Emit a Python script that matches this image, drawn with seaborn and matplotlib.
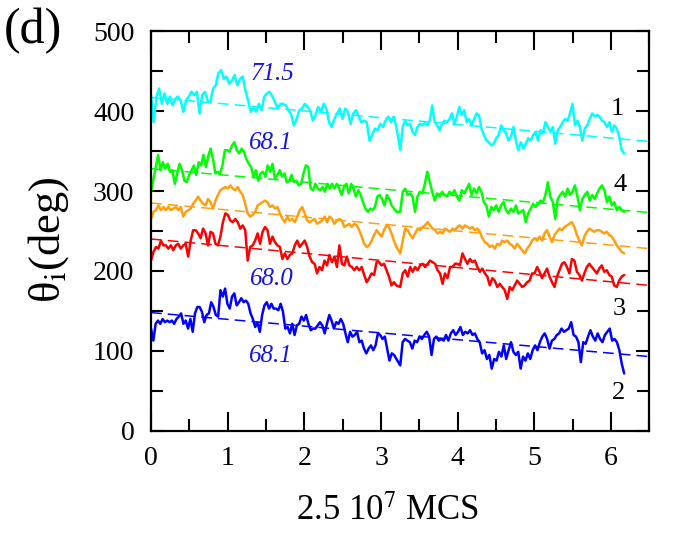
import numpy as np
import pandas as pd
import matplotlib
matplotlib.use("Agg")
import matplotlib.pyplot as plt
import seaborn as sns
from matplotlib.ticker import MultipleLocator

# ---------------- data ----------------
# each curve is sampled uniformly in time; "_a" covers t = 0 .. 3.2, "_b" covers t = 3.25 .. 6.17
cyan_a = [420,386,418,428,409,422,409,418,407,415,
          418,413,399,413,418,424,420,424,397,420,
          424,413,411,428,432,447,451,440,443,434,
          438,445,432,440,443,426,413,399,405,399,
          409,401,418,422,424,418,411,403,409,409,
          407,401,395,382,390,401,403,409,405,401,
          388,395,405,399,409,403,386,380,390,397,
          403,390,403,399,384,397,401,393,386,388,
          386,363,370,378,376,384,380,388,393,386,
          393,380]
cyan_b = [351,380,388,382,384,374,370,380,384,382,
          386,382,388,407,386,382,376,384,388,386,
          390,397,384,393,405,395,401,386,390,382,
          390,397,395,378,370,363,361,357,359,366,
          370,382,376,372,363,368,380,363,351,361,
          353,359,366,363,370,374,363,376,372,386,
          380,374,380,359,376,380,386,390,388,397,
          409,382,388,380,363,378,382,390,397,393,
          395,393,388,386,380,386,374,382,378,368,
          351,347]
green_a = [299,315,330,345,326,336,328,334,324,326,
           309,322,334,326,313,311,320,326,332,320,
           336,332,345,330,343,353,340,322,324,322,
           332,351,351,349,357,361,351,347,353,349,
           340,334,330,318,326,313,322,324,318,332,
           324,334,315,320,326,318,322,311,313,320,
           311,313,307,309,322,332,330,303,301,309,
           303,301,305,299,309,303,309,303,309,303,
           295,305,309,297,309,303,293,301,295,286,
           278,274,278,276,280,293,295,290,282,295,
           290,282,278,274]
green_b = [274,299,303,295,297,293,274,293,299,297,
           309,324,311,299,288,297,293,299,295,293,
           299,295,301,293,288,301,297,303,309,295,
           303,297,305,299,286,282,268,280,276,282,
           274,282,286,276,272,278,274,282,272,274,
           276,261,272,278,284,280,284,288,286,295,
           311,293,286,265,290,295,299,293,303,295,
           299,307,293,276,290,295,299,288,295,290,
           297,303,307,301,286,293,282,286,276,280,
           276,274]
orange_a = [265,274,276,282,276,280,276,280,276,278,
            280,276,280,268,274,276,278,284,288,293,
            288,284,282,290,286,278,288,295,301,303,
            305,303,307,303,301,305,299,295,284,272,
            268,270,274,282,284,286,288,286,280,282,
            278,280,272,265,261,268,263,265,261,268,
            276,280,272,263,261,263,265,259,261,263,
            268,261,268,265,259,263,265,263,255,257,
            259,255,259,257,251,243,234,230,232,238,
            245,251,247,243,251,257,255,247,238,230]
orange_b = [222,238,253,251,245,241,247,253,251,255,
            257,261,257,253,251,247,249,247,253,251,
            249,253,251,255,257,253,257,255,253,255,
            251,253,249,241,236,234,230,232,228,234,
            232,238,236,238,234,232,228,234,230,226,
            222,228,232,238,241,238,243,238,247,251,
            243,236,245,249,253,251,255,257,259,261,
            255,245,238,232,243,249,253,251,249,251,
            251,249,247,249,245,243,238,232,228,224,
            222]
red_a = [213,224,230,228,238,232,232,228,232,226,
         232,234,228,232,234,218,238,251,251,247,
         241,253,247,232,249,247,234,232,243,261,
         272,270,263,261,265,261,253,257,251,213,
         230,232,238,247,234,249,255,251,234,243,
         236,232,230,215,222,215,220,222,232,238,
         230,234,238,230,218,211,209,197,205,201,
         213,207,220,211,218,205,232,209,207,218,
         207,205,201,205,201,205,195,186,191,197,
         195,211,211,207,209,201,193,182,186,182]
red_b = [180,197,201,193,205,199,205,201,207,209,
         205,209,213,211,209,201,197,184,197,191,
         205,205,209,209,207,222,215,209,215,211,
         213,205,199,203,197,193,182,191,188,180,
         184,180,176,165,180,176,182,188,184,180,
         182,186,188,197,197,205,199,191,197,203,
         193,186,180,193,201,209,211,205,197,215,
         213,199,195,188,197,205,209,205,201,197,
         203,207,199,201,195,193,182,180,188,193,
         195]
blue_a = [128,113,134,138,134,140,136,138,136,138,
          134,140,143,147,134,138,128,140,124,147,
          155,155,149,136,145,147,161,155,145,143,
          176,168,178,159,153,168,172,157,161,166,
          161,163,159,147,140,130,136,124,145,157,
          161,153,159,153,153,151,159,149,128,130,
          122,134,120,132,134,143,138,145,134,126,
          128,128,132,136,132,122,134,145,138,128,
          136,134,140,134,122,111,124,118,120,124,
          111,113,103,97,103,107,101,107,122,120,
          115,118,103,88,97,95,90]
blue_b = [82,111,115,113,111,103,113,111,118,115,
          120,124,118,95,115,118,113,115,113,120,
          113,122,126,120,124,130,120,124,122,126,
          120,122,115,111,97,101,90,95,78,90,
          88,99,93,107,90,101,111,99,95,99,
          78,93,88,97,90,101,107,101,111,118,
          122,115,103,113,115,120,122,128,124,126,
          128,136,120,118,111,86,111,109,118,126,
          118,113,122,115,111,120,124,128,113,115,
          111,101,84,72]

series_names = ["cyan", "green", "orange", "red", "blue"]
series_colors = ["#00FFFF", "#00FF00", "#FF9F10", "#FF0000", "#0000FF"]
series_a = [cyan_a, green_a, orange_a, red_a, blue_a]
series_b = [cyan_b, green_b, orange_b, red_b, blue_b]

# linear trend lines (values at t = 0 and t = 6.5)
trend_t = [0.0, 6.5]
trend_start = [417, 328, 285, 240, 148]
trend_end = [362, 273, 228, 182, 93]

# slope annotations
slope_labels = ["71.5", "68.1", "68.0", "68.1"]
slope_t = [1.58, 1.56, 1.58, 1.56]
slope_v = [446, 360, 190, 94]

# curve numbers at the right
curve_labels = ["1", "4", "3", "2"]
curve_t = [6.08, 6.11, 6.10, 6.10]
curve_v = [403, 307, 153, 48]

# ---------------- build long table ----------------
frames = []
for name, a, b in zip(series_names, series_a, series_b):
    t = np.concatenate([np.linspace(0.0, 3.2, len(a)), np.linspace(3.25, 6.17, len(b))])
    frames.append(pd.DataFrame({"t": t, "theta": np.r_[a, b], "curve": name}))
df = pd.concat(frames, ignore_index=True)

# ---------------- style ----------------
sns.set_theme(style="ticks")
plt.rcParams["font.family"] = ["Liberation Serif", "DejaVu Serif"]
plt.rcParams["mathtext.fontset"] = "stix"
plt.rcParams["axes.linewidth"] = 1.6
for key in ["text.color", "axes.labelcolor", "xtick.color", "ytick.color",
            "axes.edgecolor"]:
    plt.rcParams[key] = "black"

fig = plt.figure(figsize=(6.88, 5.42), dpi=100)
ax = fig.add_axes([0.2195, 0.2048, 0.7245, 0.738])

sns.lineplot(data=df, x="t", y="theta", hue="curve", hue_order=series_names,
             palette=dict(zip(series_names, series_colors)), estimator=None,
             sort=False, legend=False, linewidth=1.8, ax=ax)

for s, e, c in zip(trend_start, trend_end, series_colors):
    ax.plot(trend_t, [s, e], color=c, linewidth=1.1, dashes=(7, 4))

for lab, t, v in zip(slope_labels, slope_t, slope_v):
    ax.text(t, v, lab, color="#1515E0", fontsize=18, fontstyle="italic",
            ha="center", va="center")

for lab, t, v in zip(curve_labels, curve_t, curve_v):
    ax.text(t, v, lab, color="black", fontsize=19, ha="center", va="center")

ax.set_xlim(0, 6.5)
ax.set_ylim(0, 500)
ax.xaxis.set_major_locator(MultipleLocator(1))
ax.xaxis.set_minor_locator(MultipleLocator(0.5))
ax.yaxis.set_major_locator(MultipleLocator(100))
ax.yaxis.set_minor_locator(MultipleLocator(50))
ax.tick_params(which="both", direction="in", top=True, right=True, width=1.5,
               colors="black", labelsize=20)
ax.tick_params(axis="x", which="major", length=14, pad=11)
ax.tick_params(axis="x", which="minor", length=8.6)
ax.tick_params(axis="y", which="major", length=9.5, pad=12)
ax.tick_params(axis="y", which="minor", length=8.6)
for sp in ax.spines.values():
    sp.set_color("black")
    sp.set_linewidth(1.6)

ax.set_xlabel("2.5 10$^{7}$ MCS", fontsize=25)
ax.xaxis.set_label_coords(0.475, -0.16)
ax.set_ylabel("θ$_{\\mathrm{i}}$(deg)", fontsize=32)
ax.yaxis.label.set_va("center")
ax.yaxis.set_label_coords(-0.205, 0.4775)

fig.text(33 / 688, 1 - 31 / 542, "(d)", fontsize=36, ha="center", va="center")

fig.savefig("out.png", dpi=100)
